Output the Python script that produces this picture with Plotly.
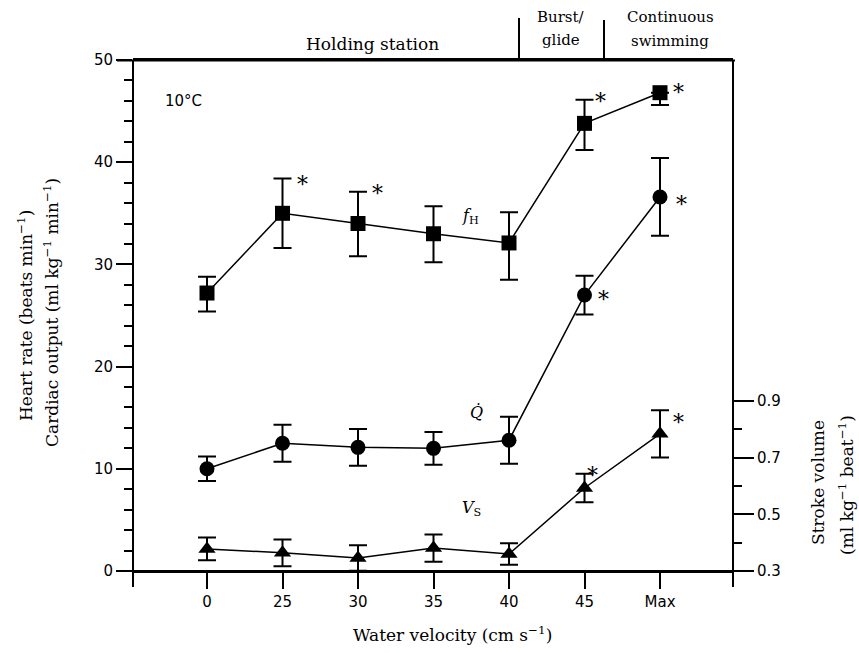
import plotly.graph_objects as go

# ---------------- data ----------------
categories = ["0", "25", "30", "35", "40", "45", "Max"]

heart_rate = [27.2, 35.0, 34.0, 33.0, 32.1, 43.8, 46.8]
heart_rate_err_up = [1.6, 3.4, 3.1, 2.7, 3.0, 2.3, 0.0]
heart_rate_err_down = [1.8, 3.4, 3.2, 2.8, 3.6, 2.6, 1.2]
heart_rate_sig = [False, True, True, False, False, True, True]

cardiac_output = [10.0, 12.5, 12.1, 12.0, 12.8, 27.0, 36.6]
cardiac_output_err = [1.2, 1.8, 1.8, 1.6, 2.3, 1.9, 3.8]
cardiac_output_sig = [False, False, False, False, False, True, True]

stroke_volume = [0.378, 0.364, 0.346, 0.381, 0.360, 0.593, 0.784]
stroke_volume_err = [0.040, 0.047, 0.045, 0.048, 0.038, 0.050, 0.083]
stroke_volume_sig = [False, False, False, False, False, True, True]

left_ticks = [0, 10, 20, 30, 40, 50]
right_ticks = [0.3, 0.5, 0.7, 0.9]
right_minor = [0.4, 0.6, 0.8]

# ---------------- layout helpers ----------------
W, H = 859, 653
L, R, T, B = 133, 733, 60, 571


def px(x):
    return (x - L) / (R - L)


def py(y):
    return (B - y) / (B - T)


xs = list(range(len(categories)))
SERIF = "DejaVu Serif"
SANS = "DejaVu Sans"

fig = go.Figure()

fig.add_trace(go.Scatter(
    x=xs, y=heart_rate, mode="lines+markers",
    line=dict(color="black", width=1.5),
    marker=dict(symbol="square", size=15, color="black"),
    error_y=dict(type="data", symmetric=False, array=heart_rate_err_up,
                 arrayminus=heart_rate_err_down, color="black",
                 thickness=2, width=9),
    showlegend=False, cliponaxis=False,
))
fig.add_trace(go.Scatter(
    x=xs, y=cardiac_output, mode="lines+markers",
    line=dict(color="black", width=1.5),
    marker=dict(symbol="circle", size=15, color="black"),
    error_y=dict(type="data", array=cardiac_output_err, color="black",
                 thickness=2, width=9),
    showlegend=False, cliponaxis=False,
))
fig.add_trace(go.Scatter(
    x=xs, y=stroke_volume, mode="lines+markers", yaxis="y2",
    line=dict(color="black", width=1.5),
    marker=dict(symbol="triangle-up", size=15, color="black"),
    error_y=dict(type="data", array=stroke_volume_err, color="black",
                 thickness=2, width=9),
    showlegend=False, cliponaxis=False,
))

# x range so that 0 sits at px 207 and Max at px 660
unit = (660 - 207) / 6
x0 = -(207 - L) / unit
x1 = 6 + (R - 660) / unit

# right axis: 0.3 at bottom, 0.9 at px 400
r_unit = (570 - 400) / 0.6
y2_top = 0.3 + (B - T) / r_unit

fig.update_layout(
    width=W, height=H,
    margin=dict(l=L, r=W - R, t=T, b=H - B, pad=0),
    paper_bgcolor="white", plot_bgcolor="white",
    font=dict(family=SERIF, size=14, color="black"),
    xaxis=dict(
        range=[x0, x1], tickmode="array", tickvals=xs, ticktext=categories,
        ticks="outside", ticklen=16, tickwidth=2, tickcolor="black",
        showline=True, mirror=True, linecolor="black", linewidth=2,
        showgrid=False, zeroline=False,
        tickfont=dict(family=SANS, size=15),
    ),
    yaxis=dict(
        range=[0, 50], tickmode="array", tickvals=left_ticks,
        ticks="outside", ticklen=16, tickwidth=2, tickcolor="black",
        minor=dict(dtick=2, ticks="outside", ticklen=8, tickwidth=2,
                   tickcolor="black", showgrid=False),
        showline=False, showgrid=False, zeroline=False,
        tickfont=dict(family=SANS, size=15),
    ),
    yaxis2=dict(
        range=[0.3, y2_top], overlaying="y", side="right",
        tickmode="array", tickvals=right_ticks,
        ticktext=[f"{v:.1f}" for v in right_ticks],
        ticks="outside", ticklen=20, tickwidth=2, tickcolor="black",
        minor=dict(tickmode="array", tickvals=right_minor, ticks="outside",
                   ticklen=8, tickwidth=2, tickcolor="black", showgrid=False),
        showline=False, showgrid=False, zeroline=False,
        tickfont=dict(family=SANS, size=15),
    ),
)

# frame lines (overshooting like the original)
line_style = dict(color="black", width=2)
frame = [
    (px(L), py(T), px(L), py(587)),
    (px(R), py(T), px(R), py(587)),
    (px(117), py(T + 0.5), px(735), py(T + 0.5)),
    (px(117), py(B), px(735), py(B)),
    (px(519), py(18), px(519), py(T)),
    (px(604), py(20), px(604), py(T)),
]
for xa, ya, xb, yb in frame:
    fig.add_shape(type="line", xref="paper", yref="paper",
                  x0=xa, y0=ya, x1=xb, y1=yb, line=line_style)

annotations = []


def txt(x, y, text, size=15, angle=0, family=SERIF, xanchor="center",
        yanchor="middle"):
    annotations.append(dict(
        xref="paper", yref="paper", x=px(x), y=py(y), text=text,
        showarrow=False, textangle=angle, xanchor=xanchor, yanchor=yanchor,
        font=dict(family=family, size=size, color="black")))


txt(372, 44, "Holding station", size=17)
txt(561, 17, "Burst/", size=15)
txt(561, 40, "glide", size=15)
txt(670, 17, "Continuous", size=15)
txt(670, 41, "swimming", size=15)
txt(183, 101, "10°C", family=SANS, size=15)

txt(470, 216, "<i>f</i><sub>H</sub>", size=16)
txt(476, 412, "<i>Q\u0307</i>", size=16)
txt(472, 508, "<i>V</i><sub>S</sub>", size=16)

txt(25, 316, "Heart rate (beats min<sup>−1</sup>)", angle=-90, size=17)
txt(51, 313, "Cardiac output (ml kg<sup>−1</sup> min<sup>−1</sup>)",
    angle=-90, size=17)
txt(818, 483, "Stroke volume", angle=-90, size=17)
txt(846, 485, "(ml kg<sup>−1</sup> beat<sup>−1</sup>)", angle=-90, size=17)
txt(452, 634, "Water velocity (cm s<sup>−1</sup>)", size=17)

fig.update_layout(annotations=annotations)


# significance asterisks
def stars(tops, sig, yref, xshift_list, yshift_list):
    for i, s in enumerate(sig):
        if s:
            fig.add_annotation(
                x=xs[i], y=tops[i], xref="x", yref=yref, text="*",
                showarrow=False, xanchor="center", yanchor="middle",
                xshift=xshift_list[i], yshift=yshift_list[i],
                font=dict(family=SERIF, size=22, color="black"))


f_tops = [v + e for v, e in zip(heart_rate, heart_rate_err_up)]
stars(f_tops, heart_rate_sig, "y",
      [0, 20, 19, 0, 0, 16, 18], [0, -6, -2, 0, 0, -2, 0])
stars(cardiac_output, cardiac_output_sig, "y",
      [0, 0, 0, 0, 0, 19, 21], [0, 0, 0, 0, 0, -4, -8])
sv_tops = [v + e for v, e in zip(stroke_volume, stroke_volume_err)]
stars(sv_tops, stroke_volume_sig, "y2",
      [0, 0, 0, 0, 0, 8, 18], [0, 0, 0, 0, 0, -2, -12])

fig.write_html(
    "out.html",
    config={"displayModeBar": False},
    post_script="document.body.style.margin='0';"
                "document.body.style.overflow='hidden';",
)
